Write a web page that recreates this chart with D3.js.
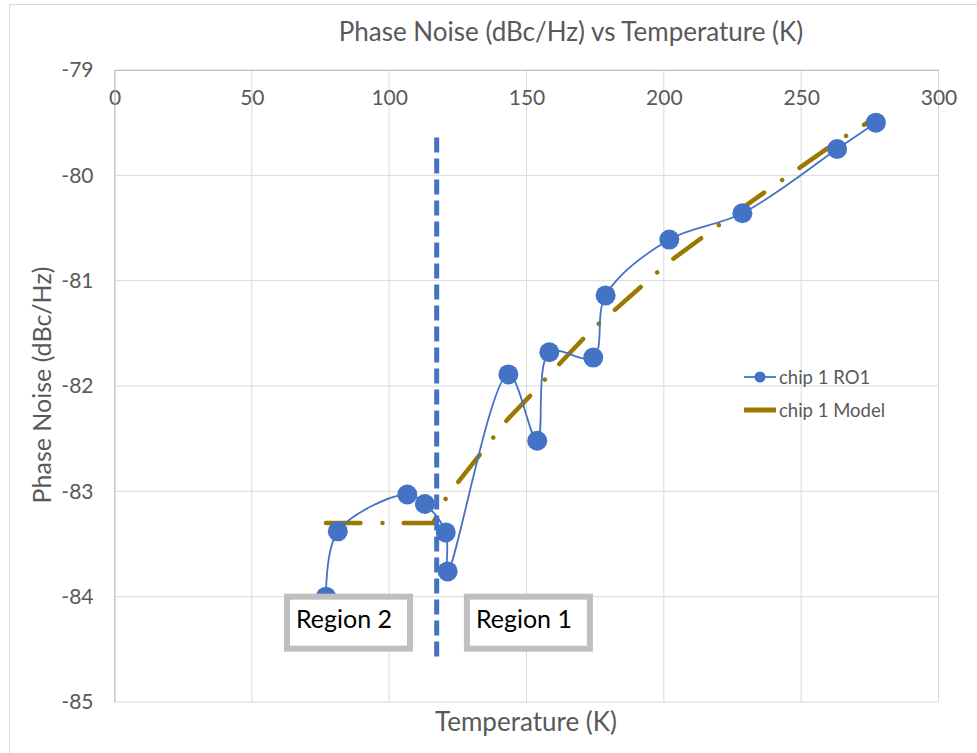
<!DOCTYPE html>
<html>
<head>
<meta charset="utf-8">
<script src="https://cdn.jsdelivr.net/npm/d3@7"></script>
<style>
  body { margin: 0; background: #fff; }
  text { font-family: Lato, "Open Sans", sans-serif; }
</style>
</head>
<body>
<div id="chart"></div>
<script>
// measured series: chip 1 RO1
const tempRO1 = [77, 81.3, 106.6, 113, 120.6, 121.3, 143.4, 153.9, 158.3, 174.3, 178.8, 202, 228.6, 263.1, 277.2];
const noiseRO1 = [-84.0, -83.38, -83.03, -83.12, -83.39, -83.76, -81.89, -82.52, -81.68, -81.73, -81.14, -80.61, -80.36, -79.75, -79.5];

// model series: chip 1 Model
const tempModel = [77, 81.3, 106.6, 113, 116, 121, 143, 154, 158, 174, 179, 202, 228, 263, 277.2];
const noiseModel = [-83.3, -83.3, -83.3, -83.3, -83.3, -83.05, -82.32, -82.02, -81.9, -81.46, -81.35, -80.82, -80.32, -79.68, -79.45];

const xTicks = [0, 50, 100, 150, 200, 250, 300];
const yTicks = [-79, -80, -81, -82, -83, -84, -85];

// boundary marker + region labels
const boundaryT = 117.3;
const boundaryY = [-79.64, -84.6];
const regionLabels = [
  { label: "Region 2", t: 62.8, v: -84.0 },
  { label: "Region 1", t: 128.3, v: -84.0 }
];

const width = 977, height = 753;
const plot = { left: 114.5, right: 938.5, top: 70, bottom: 702 };
const grey = "#595959";
const blue = "#4472C4";
const gold = "#9C7800";

const svg = d3.select("#chart").append("svg")
  .attr("width", width)
  .attr("height", height);

// chart area border
svg.append("rect")
  .attr("x", 9.5).attr("y", 4.5)
  .attr("width", 1000).attr("height", 800)
  .attr("fill", "#fff")
  .attr("stroke", "#D9D9D9");

const x = d3.scaleLinear().domain([0, 300]).range([plot.left, plot.right]);
const y = d3.scaleLinear().domain([-79, -85]).range([plot.top, plot.bottom]);

// gridlines
svg.append("g").selectAll("line").data(xTicks).join("line")
  .attr("x1", d => x(d)).attr("x2", d => x(d))
  .attr("y1", plot.top).attr("y2", plot.bottom)
  .attr("stroke", "#D9D9D9").attr("stroke-width", 1);
svg.append("g").selectAll("line").data(yTicks).join("line")
  .attr("x1", plot.left).attr("x2", plot.right)
  .attr("y1", d => y(d)).attr("y2", d => y(d))
  .attr("stroke", "#D9D9D9").attr("stroke-width", 1);

// x axis sits on top (crosses at -79)
const xAxis = svg.append("g")
  .attr("transform", `translate(0,${plot.top})`)
  .call(d3.axisBottom(x).tickValues(xTicks).tickFormat(d => String(d)).tickSize(0).tickPadding(20));
xAxis.select(".domain").attr("stroke", "#BFBFBF");
xAxis.selectAll("text").attr("fill", grey).style("font-size", "21px");

const yAxis = svg.append("g")
  .attr("transform", `translate(${plot.left},0)`)
  .call(d3.axisLeft(y).tickValues(yTicks).tickFormat(d => String(d)).tickSize(0).tickPadding(21));
yAxis.select(".domain").attr("stroke", "#BFBFBF");
yAxis.selectAll("text").attr("fill", grey).style("font-size", "21px");

// titles
svg.append("text")
  .attr("x", 571).attr("y", 41)
  .attr("text-anchor", "middle")
  .attr("fill", grey)
  .style("font-size", "26px")
  .text("Phase Noise (dBc/Hz) vs Temperature (K)");

svg.append("text")
  .attr("x", 526).attr("y", 731)
  .attr("text-anchor", "middle")
  .attr("fill", grey)
  .style("font-size", "26px")
  .text("Temperature (K)");

svg.append("text")
  .attr("transform", `translate(51,385) rotate(-90)`)
  .attr("text-anchor", "middle")
  .attr("fill", grey)
  .style("font-size", "25px")
  .text("Phase Noise (dBc/Hz)");

// model line (long dash dot)
const modelData = tempModel.map((t, i) => [t, noiseModel[i]]);
svg.append("path")
  .datum(modelData)
  .attr("d", d3.line().x(d => x(d[0])).y(d => y(d[1])))
  .attr("fill", "none")
  .attr("stroke", gold)
  .attr("stroke-width", 4.5)
  .attr("stroke-linecap", "round")
  .attr("stroke-dasharray", "34.5,22,0.01,21.2");

// measured line, smoothed like Excel
const roData = tempRO1.map((t, i) => [t, noiseRO1[i]]);
svg.append("path")
  .datum(roData)
  .attr("d", d3.line().x(d => x(d[0])).y(d => y(d[1])).curve(d3.curveCatmullRom.alpha(0.5)))
  .attr("fill", "none")
  .attr("stroke", blue)
  .attr("stroke-width", 1.8);

svg.append("g").selectAll("circle").data(roData).join("circle")
  .attr("cx", d => x(d[0]))
  .attr("cy", d => y(d[1]))
  .attr("r", 10)
  .attr("fill", blue);

// boundary line
svg.append("line")
  .attr("x1", x(boundaryT)).attr("x2", x(boundaryT))
  .attr("y1", y(boundaryY[0])).attr("y2", y(boundaryY[1]))
  .attr("stroke", blue)
  .attr("stroke-width", 5)
  .attr("stroke-dasharray", "15,6");

// region boxes
const regions = svg.append("g").selectAll("g").data(regionLabels).join("g")
  .attr("transform", d => `translate(${x(d.t)},${y(d.v)})`);
regions.append("rect")
  .attr("x", 0).attr("y", 0)
  .attr("width", 123).attr("height", 52)
  .attr("fill", "#fff")
  .attr("stroke", "#BFBFBF")
  .attr("stroke-width", 6);
regions.append("text")
  .attr("x", 9).attr("y", 31)
  .attr("fill", "#000")
  .style("font-size", "25px")
  .text(d => d.label);

// legend
const legendItems = [
  { label: "chip 1 RO1", color: blue, w: 1.8, marker: true },
  { label: "chip 1 Model", color: gold, w: 5, marker: false }
];
const legend = svg.append("g").selectAll("g").data(legendItems).join("g")
  .attr("transform", (d, i) => `translate(744,${377 + i * 33})`);
legend.append("line")
  .attr("x1", 0).attr("x2", 32)
  .attr("stroke", d => d.color)
  .attr("stroke-width", d => d.w);
legend.filter(d => d.marker).append("circle")
  .attr("cx", 16).attr("r", 5.5)
  .attr("fill", blue);
legend.append("text")
  .attr("x", 35).attr("y", 6.5)
  .attr("fill", grey)
  .style("font-size", "18.5px")
  .text(d => d.label);
</script>
</body>
</html>
